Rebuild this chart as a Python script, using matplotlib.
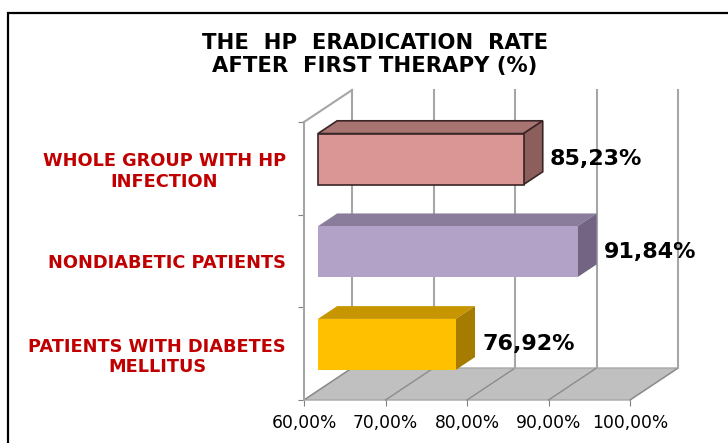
import matplotlib.pyplot as plt
from matplotlib.patches import Polygon, Rectangle

# === data ===
categories = ["PATIENTS WITH DIABETES\nMELLITUS",
              "NONDIABETIC PATIENTS",
              "WHOLE GROUP WITH HP\nINFECTION"]
values = [76.92, 91.84, 85.23]
value_labels = ["76,92%", "91,84%", "85,23%"]
xticks = [60, 70, 80, 90, 100]
xtick_labels = ["60,00%", "70,00%", "80,00%", "90,00%", "100,00%"]

front_cols = ["#FFC000", "#B3A2C7", "#D99694"]
top_cols = ["#C79500", "#8A7C9B", "#A87471"]
side_cols = ["#A67C00", "#726482", "#8C5F5D"]
edge_cols = ["none", "none", "#3A2626"]

# 3d look: depth offset in data units
DX, DY = 5.89, 0.345
F0, F1 = 0.29, 0.69
BAR_H = 0.55

fig = plt.figure(figsize=(7.28, 4.43), dpi=100)
W, H = 728, 443
ax = fig.add_axes([304 / W, (H - 400) / H, (630 - 304) / W, (400 - 122) / H])
ax.set_xlim(60, 100)
ax.set_ylim(0, 3)
for s in ax.spines.values():
    s.set_visible(False)

grid = "#A6A6A6"
# floor
floor = Polygon([(60, 0), (100, 0), (100 + DX, DY), (60 + DX, DY)],
                closed=True, facecolor="#C0C0C0", edgecolor=grid, lw=1,
                clip_on=False, zorder=1)
ax.add_patch(floor)
for x in xticks:
    ax.plot([x, x + DX], [0, DY], color="#8C8C8C", lw=1, clip_on=False, zorder=2)
    # back wall gridlines
    ax.plot([x + DX, x + DX], [DY, 3 + DY], color=grid, lw=1.5, clip_on=False, zorder=2)
# left wall
ax.plot([60, 60], [0, 3], color=grid, lw=1.5, clip_on=False, zorder=2)
ax.plot([60, 60 + DX], [3, 3 + DY], color=grid, lw=1.5, clip_on=False, zorder=2)

# bars
for i, v in enumerate(values):
    yc = i + 0.5
    yb, yt = yc - BAR_H / 2, yc + BAR_H / 2
    x0 = 60
    ox0, oy0 = F0 * DX, F0 * DY
    ox1, oy1 = F1 * DX, F1 * DY
    lw = 1.2 if edge_cols[i] != "none" else 0
    top = Polygon([(x0 + ox0, yt + oy0), (v + ox0, yt + oy0),
                   (v + ox1, yt + oy1), (x0 + ox1, yt + oy1)],
                  facecolor=top_cols[i], edgecolor=edge_cols[i], lw=lw,
                  clip_on=False, zorder=3)
    side = Polygon([(v + ox0, yb + oy0), (v + ox0, yt + oy0),
                    (v + ox1, yt + oy1), (v + ox1, yb + oy1)],
                   facecolor=side_cols[i], edgecolor=edge_cols[i], lw=lw,
                   clip_on=False, zorder=3)
    front = Rectangle((x0 + ox0, yb + oy0), v - x0, BAR_H,
                      facecolor=front_cols[i], edgecolor=edge_cols[i], lw=lw,
                      clip_on=False, zorder=4)
    ax.add_patch(top)
    ax.add_patch(side)
    ax.add_patch(front)
    ax.text(v + F1 * DX + 0.9, yc + oy0, value_labels[i], fontsize=16,
            fontweight="bold", ha="left", va="center", zorder=5,
            family="DejaVu Sans")

# ticks
ax.set_xticks(xticks)
ax.set_xticklabels(xtick_labels, fontsize=12.3, family="DejaVu Sans")
ax.set_yticks([0, 1, 2, 3])
ax.set_yticklabels([])
ax.set_yticks([0.5, 1.5, 2.5], minor=True)
ax.set_yticklabels(categories, minor=True, fontsize=12.8, fontweight="bold",
                   color="#C00000", family="DejaVu Sans", linespacing=1.2)
for t in ax.get_yticklabels(minor=True):
    t.set_multialignment("center")
ax.tick_params(axis="x", length=4, color="#808080", pad=6)
ax.tick_params(axis="y", which="major", length=4, color="#808080")
ax.tick_params(axis="y", which="minor", length=0, pad=13)

# title
fig.text(375 / W, 1 - 54.5 / H, "THE  HP  ERADICATION  RATE\nAFTER  FIRST THERAPY (%)",
         ha="center", va="center", fontsize=15.2, fontweight="bold",
         family="DejaVu Sans", linespacing=1.2)

# outer frame
fig.patches.append(Rectangle((8 / W, -0.1), 1.2, 1 - 13 / H + 0.1,
                             transform=fig.transFigure, fill=False,
                             edgecolor="black", lw=1.6))

fig.savefig("out.png", dpi=100)
